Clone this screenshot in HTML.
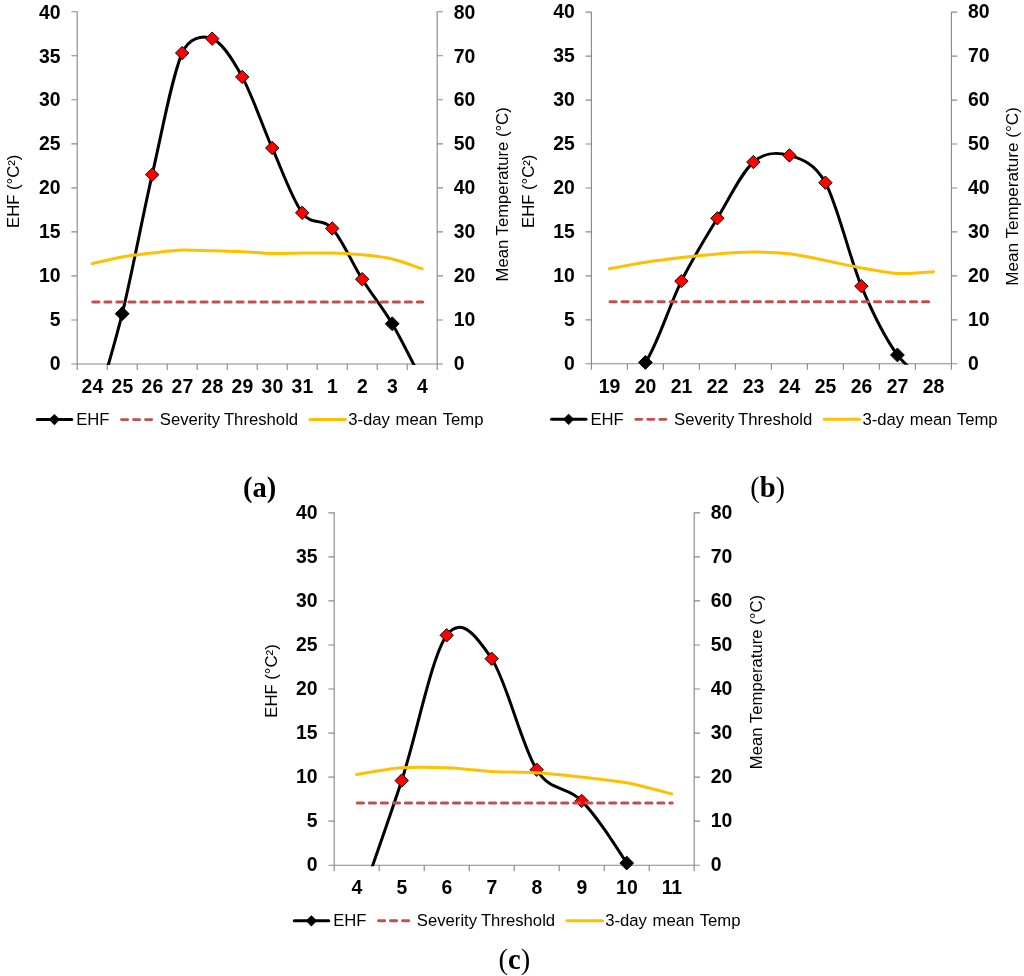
<!DOCTYPE html>
<html lang="en">
<head>
<meta charset="utf-8">
<title>EHF heatwave charts</title>
<style>
html,body{margin:0;padding:0;background:#fff;}
body{width:1024px;height:976px;overflow:hidden;}
svg{display:block;will-change:transform;}
text{white-space:pre;}
</style>
</head>
<body>
<svg width="1024" height="976" viewBox="0 0 1024 976">
<rect width="1024" height="976" fill="#ffffff"/>
<g id="chart-a">
<path d="M77.2 11.2 V364.5 M437.2 11.2 V364.5 M71.4 364 H443 M71.4 11.7 H77.2 M437.2 11.7 H443 M71.4 55.74 H77.2 M437.2 55.74 H443 M71.4 99.78 H77.2 M437.2 99.78 H443 M71.4 143.81 H77.2 M437.2 143.81 H443 M71.4 187.85 H77.2 M437.2 187.85 H443 M71.4 231.89 H77.2 M437.2 231.89 H443 M71.4 275.93 H77.2 M437.2 275.93 H443 M71.4 319.96 H77.2 M437.2 319.96 H443 M77.2 364 V370 M107.2 364 V370 M137.2 364 V370 M167.2 364 V370 M197.2 364 V370 M227.2 364 V370 M257.2 364 V370 M287.2 364 V370 M317.2 364 V370 M347.2 364 V370 M377.2 364 V370 M407.2 364 V370 M437.2 364 V370" fill="none" stroke="#8a8a8a" stroke-width="1.15"/>
<clipPath id="clipa"><rect x="77.2" y="-8.3" width="360" height="373.3"/></clipPath>
<path d="M92.2 419.49 C97.2 401.86 112.2 354.52 122.2 313.71 C132.2 272.9 142.2 218.09 152.2 174.64 C162.2 131.19 172.2 75.67 182.2 53.01 C188.91 37.79 202.2 34.67 212.2 38.65 C222.2 42.63 232.2 58.66 242.2 76.88 C252.2 95.09 262.2 125.3 272.2 147.95 C282.2 170.6 292.2 199.36 302.2 212.78 C312.2 226.19 322.2 217.38 332.2 228.45 C342.2 239.52 352.2 263.3 362.2 279.18 C372.2 295.07 382.2 306.75 392.2 323.75 C402.2 340.75 417.2 371.6 422.2 381.17" fill="none" stroke="#000000" stroke-width="3" stroke-linejoin="round" clip-path="url(#clipa)"/>
<path d="M122.2 306.81 L129.1 313.71 L122.2 320.61 L115.3 313.71 Z" fill="#000000" stroke="#000000" stroke-width="1"/>
<path d="M152.2 167.94 L158.9 174.64 L152.2 181.34 L145.5 174.64 Z" fill="#ff0000" stroke="#000000" stroke-width="0.95"/>
<path d="M182.2 46.31 L188.9 53.01 L182.2 59.71 L175.5 53.01 Z" fill="#ff0000" stroke="#000000" stroke-width="0.95"/>
<path d="M212.2 31.95 L218.9 38.65 L212.2 45.35 L205.5 38.65 Z" fill="#ff0000" stroke="#000000" stroke-width="0.95"/>
<path d="M242.2 70.18 L248.9 76.88 L242.2 83.58 L235.5 76.88 Z" fill="#ff0000" stroke="#000000" stroke-width="0.95"/>
<path d="M272.2 141.25 L278.9 147.95 L272.2 154.65 L265.5 147.95 Z" fill="#ff0000" stroke="#000000" stroke-width="0.95"/>
<path d="M302.2 206.08 L308.9 212.78 L302.2 219.48 L295.5 212.78 Z" fill="#ff0000" stroke="#000000" stroke-width="0.95"/>
<path d="M332.2 221.75 L338.9 228.45 L332.2 235.15 L325.5 228.45 Z" fill="#ff0000" stroke="#000000" stroke-width="0.95"/>
<path d="M362.2 272.48 L368.9 279.18 L362.2 285.88 L355.5 279.18 Z" fill="#ff0000" stroke="#000000" stroke-width="0.95"/>
<path d="M392.2 316.85 L399.1 323.75 L392.2 330.65 L385.3 323.75 Z" fill="#000000" stroke="#000000" stroke-width="1"/>
<path d="M92.8 301.91 H422.7" fill="none" stroke="#c0504d" stroke-width="3" stroke-dasharray="6.15 5.87" stroke-linecap="round"/>
<path d="M92.2 263.59 C97.2 262.49 112.2 258.75 122.2 256.99 C132.2 255.23 142.2 254.2 152.2 253.03 C162.2 251.85 172.2 250.31 182.2 249.94 C192.2 249.58 202.2 250.53 212.2 250.82 C222.2 251.12 232.2 251.26 242.2 251.7 C252.2 252.14 262.2 253.25 272.2 253.47 C282.2 253.69 292.2 253.1 302.2 253.03 C312.2 252.95 322.2 252.73 332.2 253.03 C342.2 253.32 352.2 253.8 362.2 254.79 C372.2 255.78 382.2 256.62 392.2 258.97 C402.2 261.32 417.2 267.23 422.2 268.88" fill="none" stroke="#ffc000" stroke-width="3" stroke-linecap="round" stroke-linejoin="round"/>
<g font-family='"Liberation Sans", Arial, Helvetica, sans-serif' font-size="20" font-weight="bold" fill="#000">
<g text-anchor="end">
<text transform="translate(60.5 18.65) scale(0.97 1.045)">40</text>
<text transform="translate(60.5 62.55) scale(0.97 1.045)">35</text>
<text transform="translate(60.5 106.45) scale(0.97 1.045)">30</text>
<text transform="translate(60.5 150.34) scale(0.97 1.045)">25</text>
<text transform="translate(60.5 194.24) scale(0.97 1.045)">20</text>
<text transform="translate(60.5 238.14) scale(0.97 1.045)">15</text>
<text transform="translate(60.5 282.03) scale(0.97 1.045)">10</text>
<text transform="translate(60.5 325.93) scale(0.97 1.045)">5</text>
<text transform="translate(60.5 369.83) scale(0.97 1.045)">0</text>
</g>
<g text-anchor="start">
<text transform="translate(453.8 18.65) scale(0.97 1.045)">80</text>
<text transform="translate(453.8 62.55) scale(0.97 1.045)">70</text>
<text transform="translate(453.8 106.45) scale(0.97 1.045)">60</text>
<text transform="translate(453.8 150.34) scale(0.97 1.045)">50</text>
<text transform="translate(453.8 194.24) scale(0.97 1.045)">40</text>
<text transform="translate(453.8 238.14) scale(0.97 1.045)">30</text>
<text transform="translate(453.8 282.03) scale(0.97 1.045)">20</text>
<text transform="translate(453.8 325.93) scale(0.97 1.045)">10</text>
<text transform="translate(453.8 369.83) scale(0.97 1.045)">0</text>
</g>
<g text-anchor="middle">
<text transform="translate(92.4 392.7) scale(0.97 1.02)">24</text>
<text transform="translate(122.4 392.7) scale(0.97 1.02)">25</text>
<text transform="translate(152.4 392.7) scale(0.97 1.02)">26</text>
<text transform="translate(182.4 392.7) scale(0.97 1.02)">27</text>
<text transform="translate(212.4 392.7) scale(0.97 1.02)">28</text>
<text transform="translate(242.4 392.7) scale(0.97 1.02)">29</text>
<text transform="translate(272.4 392.7) scale(0.97 1.02)">30</text>
<text transform="translate(302.4 392.7) scale(0.97 1.02)">31</text>
<text transform="translate(332.4 392.7) scale(0.97 1.02)">1</text>
<text transform="translate(362.4 392.7) scale(0.97 1.02)">2</text>
<text transform="translate(392.4 392.7) scale(0.97 1.02)">3</text>
<text transform="translate(422.4 392.7) scale(0.97 1.02)">4</text>
</g>
</g>
<g font-family='"Liberation Sans", Arial, Helvetica, sans-serif' font-size="16.7" fill="#000" text-anchor="middle">
<text transform="translate(18.9 191.3) rotate(-90)">EHF (°C²)</text>
<text transform="translate(508 194.4) rotate(-90)" font-size="16.7">Mean Temperature (°C)</text>
</g>
<g font-family='"Liberation Sans", Arial, Helvetica, sans-serif' font-size="16.7" fill="#000">
<path d="M37.3 419.6 H71.8" stroke="#000" stroke-width="3" stroke-linecap="round"/>
<path d="M54.4 414 L60 419.6 L54.4 425.2 L48.8 419.6 Z" fill="#000"/>
<text x="76.2" y="425.2">EHF</text>
<path d="M121.5 419.6 H151.9" stroke="#c0504d" stroke-width="2.9" stroke-dasharray="6.15 5.87" stroke-linecap="round"/>
<text x="159.8" y="425.2" word-spacing="-0.5">Severity Threshold</text>
<path d="M309.9 419.6 H345.4" stroke="#ffc000" stroke-width="3" stroke-linecap="round"/>
<text x="348.2" y="425.2" word-spacing="1">3-day mean Temp</text>
</g>
<text x="259.7" y="496.6" font-family='"Liberation Serif", "Times New Roman", Times, serif' font-size="28.5" font-weight="bold" text-anchor="middle" fill="#000">(a)</text>
</g>
<g id="chart-b">
<path d="M591.4 11.65 V364.25 M951.4 11.65 V364.25 M585.6 363.75 H957.2 M585.6 12.15 H591.4 M951.4 12.15 H957.2 M585.6 56.1 H591.4 M951.4 56.1 H957.2 M585.6 100.05 H591.4 M951.4 100.05 H957.2 M585.6 144 H591.4 M951.4 144 H957.2 M585.6 187.95 H591.4 M951.4 187.95 H957.2 M585.6 231.9 H591.4 M951.4 231.9 H957.2 M585.6 275.85 H591.4 M951.4 275.85 H957.2 M585.6 319.8 H591.4 M951.4 319.8 H957.2 M591.4 363.75 V369.75 M627.4 363.75 V369.75 M663.4 363.75 V369.75 M699.4 363.75 V369.75 M735.4 363.75 V369.75 M771.4 363.75 V369.75 M807.4 363.75 V369.75 M843.4 363.75 V369.75 M879.4 363.75 V369.75 M915.4 363.75 V369.75 M951.4 363.75 V369.75" fill="none" stroke="#8a8a8a" stroke-width="1.15"/>
<clipPath id="clipb"><rect x="591.4" y="-7.85" width="360" height="372.6"/></clipPath>
<path d="M609.4 385.73 C615.4 381.84 633.4 379.87 645.4 362.43 C657.4 345 669.4 305.15 681.4 281.12 C693.4 257.1 705.4 238.13 717.4 218.28 C729.4 198.42 741.4 172.49 753.4 162.02 C765.4 151.54 777.4 151.98 789.4 155.43 C801.4 158.87 814.51 162.9 825.4 182.68 C837.4 204.46 849.4 257.42 861.4 286.13 C873.4 314.85 885.4 338.51 897.4 354.96 C909.4 371.41 927.4 379.87 933.4 384.85" fill="none" stroke="#000000" stroke-width="3" stroke-linejoin="round" clip-path="url(#clipb)"/>
<path d="M645.4 355.53 L652.3 362.43 L645.4 369.33 L638.5 362.43 Z" fill="#000000" stroke="#000000" stroke-width="1"/>
<path d="M681.4 274.42 L688.1 281.12 L681.4 287.82 L674.7 281.12 Z" fill="#ff0000" stroke="#000000" stroke-width="0.95"/>
<path d="M717.4 211.58 L724.1 218.28 L717.4 224.98 L710.7 218.28 Z" fill="#ff0000" stroke="#000000" stroke-width="0.95"/>
<path d="M753.4 155.32 L760.1 162.02 L753.4 168.72 L746.7 162.02 Z" fill="#ff0000" stroke="#000000" stroke-width="0.95"/>
<path d="M789.4 148.73 L796.1 155.43 L789.4 162.13 L782.7 155.43 Z" fill="#ff0000" stroke="#000000" stroke-width="0.95"/>
<path d="M825.4 175.98 L832.1 182.68 L825.4 189.38 L818.7 182.68 Z" fill="#ff0000" stroke="#000000" stroke-width="0.95"/>
<path d="M861.4 279.43 L868.1 286.13 L861.4 292.83 L854.7 286.13 Z" fill="#ff0000" stroke="#000000" stroke-width="0.95"/>
<path d="M897.4 348.06 L904.3 354.96 L897.4 361.86 L890.5 354.96 Z" fill="#000000" stroke="#000000" stroke-width="1"/>
<path d="M610 301.78 H933.9" fill="none" stroke="#c0504d" stroke-width="3" stroke-dasharray="6.15 5.87" stroke-linecap="round"/>
<path d="M609.4 268.82 C615.4 267.72 633.4 264.13 645.4 262.23 C657.4 260.32 669.4 258.78 681.4 257.39 C693.4 256 705.4 254.75 717.4 253.88 C729.4 253 741.4 252.15 753.4 252.12 C765.4 252.08 777.4 252.26 789.4 253.66 C801.4 255.05 813.4 258.09 825.4 260.47 C837.4 262.85 849.4 265.78 861.4 267.94 C873.4 270.1 885.4 272.81 897.4 273.43 C909.4 274.06 927.4 271.97 933.4 271.67" fill="none" stroke="#ffc000" stroke-width="3" stroke-linecap="round" stroke-linejoin="round"/>
<g font-family='"Liberation Sans", Arial, Helvetica, sans-serif' font-size="20" font-weight="bold" fill="#000">
<g text-anchor="end">
<text transform="translate(574.7 18.25) scale(0.97 1.045)">40</text>
<text transform="translate(574.7 62.2) scale(0.97 1.045)">35</text>
<text transform="translate(574.7 106.15) scale(0.97 1.045)">30</text>
<text transform="translate(574.7 150.1) scale(0.97 1.045)">25</text>
<text transform="translate(574.7 194.05) scale(0.97 1.045)">20</text>
<text transform="translate(574.7 238) scale(0.97 1.045)">15</text>
<text transform="translate(574.7 281.95) scale(0.97 1.045)">10</text>
<text transform="translate(574.7 325.9) scale(0.97 1.045)">5</text>
<text transform="translate(574.7 369.85) scale(0.97 1.045)">0</text>
</g>
<g text-anchor="start">
<text transform="translate(968 18.25) scale(0.97 1.045)">80</text>
<text transform="translate(968 62.2) scale(0.97 1.045)">70</text>
<text transform="translate(968 106.15) scale(0.97 1.045)">60</text>
<text transform="translate(968 150.1) scale(0.97 1.045)">50</text>
<text transform="translate(968 194.05) scale(0.97 1.045)">40</text>
<text transform="translate(968 238) scale(0.97 1.045)">30</text>
<text transform="translate(968 281.95) scale(0.97 1.045)">20</text>
<text transform="translate(968 325.9) scale(0.97 1.045)">10</text>
<text transform="translate(968 369.85) scale(0.97 1.045)">0</text>
</g>
<g text-anchor="middle">
<text transform="translate(609.6 393.35) scale(0.97 1.02)">19</text>
<text transform="translate(645.6 393.35) scale(0.97 1.02)">20</text>
<text transform="translate(681.6 393.35) scale(0.97 1.02)">21</text>
<text transform="translate(717.6 393.35) scale(0.97 1.02)">22</text>
<text transform="translate(753.6 393.35) scale(0.97 1.02)">23</text>
<text transform="translate(789.6 393.35) scale(0.97 1.02)">24</text>
<text transform="translate(825.6 393.35) scale(0.97 1.02)">25</text>
<text transform="translate(861.6 393.35) scale(0.97 1.02)">26</text>
<text transform="translate(897.6 393.35) scale(0.97 1.02)">27</text>
<text transform="translate(933.6 393.35) scale(0.97 1.02)">28</text>
</g>
</g>
<g font-family='"Liberation Sans", Arial, Helvetica, sans-serif' font-size="16.7" fill="#000" text-anchor="middle">
<text transform="translate(533.9 191.3) rotate(-90)">EHF (°C²)</text>
<text transform="translate(1018.1 196.4) rotate(-90)" font-size="17.1">Mean Temperature (°C)</text>
</g>
<g font-family='"Liberation Sans", Arial, Helvetica, sans-serif' font-size="16.7" fill="#000">
<path d="M551.5 419.35 H586" stroke="#000" stroke-width="3" stroke-linecap="round"/>
<path d="M568.6 413.75 L574.2 419.35 L568.6 424.95 L563 419.35 Z" fill="#000"/>
<text x="590.4" y="424.95">EHF</text>
<path d="M635.7 419.35 H666.1" stroke="#c0504d" stroke-width="2.9" stroke-dasharray="6.15 5.87" stroke-linecap="round"/>
<text x="674" y="424.95" word-spacing="-0.5">Severity Threshold</text>
<path d="M824.1 419.35 H859.6" stroke="#ffc000" stroke-width="3" stroke-linecap="round"/>
<text x="862.4" y="424.95" word-spacing="1">3-day mean Temp</text>
</g>
<text x="767.6" y="496.6" font-family='"Liberation Serif", "Times New Roman", Times, serif' font-size="28.5" text-anchor="middle" fill="#000">(<tspan font-weight="bold">b</tspan>)</text>
</g>
<g id="chart-c">
<path d="M334.2 512.35 V865.7 M694.2 512.35 V865.7 M328.4 865.2 H700 M328.4 512.85 H334.2 M694.2 512.85 H700 M328.4 556.89 H334.2 M694.2 556.89 H700 M328.4 600.94 H334.2 M694.2 600.94 H700 M328.4 644.98 H334.2 M694.2 644.98 H700 M328.4 689.03 H334.2 M694.2 689.03 H700 M328.4 733.07 H334.2 M694.2 733.07 H700 M328.4 777.11 H334.2 M694.2 777.11 H700 M328.4 821.16 H334.2 M694.2 821.16 H700 M334.2 865.2 V871.2 M379.2 865.2 V871.2 M424.2 865.2 V871.2 M469.2 865.2 V871.2 M514.2 865.2 V871.2 M559.2 865.2 V871.2 M604.2 865.2 V871.2 M649.2 865.2 V871.2 M694.2 865.2 V871.2" fill="none" stroke="#8a8a8a" stroke-width="1.15"/>
<clipPath id="clipc"><rect x="334.2" y="492.85" width="360" height="373.35"/></clipPath>
<path d="M356.7 911.01 C364.2 889.26 386.7 826.5 401.7 780.55 C416.7 734.6 431.7 655.6 446.7 635.29 C461.7 614.99 477.59 637.64 491.7 658.72 C506.7 681.13 521.7 746.02 536.7 769.71 C551.34 792.84 566.7 785.33 581.7 800.9 C596.7 816.46 611.7 839.89 626.7 863.09 C641.7 886.28 664.2 927.24 671.7 940.07" fill="none" stroke="#000000" stroke-width="3" stroke-linejoin="round" clip-path="url(#clipc)"/>
<path d="M401.7 773.85 L408.4 780.55 L401.7 787.25 L395 780.55 Z" fill="#ff0000" stroke="#000000" stroke-width="0.95"/>
<path d="M446.7 628.59 L453.4 635.29 L446.7 641.99 L440 635.29 Z" fill="#ff0000" stroke="#000000" stroke-width="0.95"/>
<path d="M491.7 652.02 L498.4 658.72 L491.7 665.42 L485 658.72 Z" fill="#ff0000" stroke="#000000" stroke-width="0.95"/>
<path d="M536.7 763.01 L543.4 769.71 L536.7 776.41 L530 769.71 Z" fill="#ff0000" stroke="#000000" stroke-width="0.95"/>
<path d="M581.7 794.2 L588.4 800.9 L581.7 807.6 L575 800.9 Z" fill="#ff0000" stroke="#000000" stroke-width="0.95"/>
<path d="M626.7 856.19 L633.6 863.09 L626.7 869.99 L619.8 863.09 Z" fill="#000000" stroke="#000000" stroke-width="1"/>
<path d="M357.3 803.1 H672.2" fill="none" stroke="#c0504d" stroke-width="3" stroke-dasharray="6.15 5.87" stroke-linecap="round"/>
<path d="M356.7 774.47 C364.2 773.37 386.7 768.96 401.7 767.86 C416.7 766.76 431.7 767.28 446.7 767.86 C461.7 768.45 476.7 770.58 491.7 771.39 C506.7 772.19 521.7 771.75 536.7 772.71 C551.7 773.66 566.7 775.42 581.7 777.11 C596.7 778.8 611.7 780.05 626.7 782.84 C641.7 785.63 664.2 792.01 671.7 793.85" fill="none" stroke="#ffc000" stroke-width="3" stroke-linecap="round" stroke-linejoin="round"/>
<g font-family='"Liberation Sans", Arial, Helvetica, sans-serif' font-size="20" font-weight="bold" fill="#000">
<g text-anchor="end">
<text transform="translate(317.5 519.35) scale(0.97 1.045)">40</text>
<text transform="translate(317.5 563.34) scale(0.97 1.045)">35</text>
<text transform="translate(317.5 607.34) scale(0.97 1.045)">30</text>
<text transform="translate(317.5 651.33) scale(0.97 1.045)">25</text>
<text transform="translate(317.5 695.33) scale(0.97 1.045)">20</text>
<text transform="translate(317.5 739.32) scale(0.97 1.045)">15</text>
<text transform="translate(317.5 783.31) scale(0.97 1.045)">10</text>
<text transform="translate(317.5 827.31) scale(0.97 1.045)">5</text>
<text transform="translate(317.5 871.3) scale(0.97 1.045)">0</text>
</g>
<g text-anchor="start">
<text transform="translate(710.8 519.35) scale(0.97 1.045)">80</text>
<text transform="translate(710.8 563.34) scale(0.97 1.045)">70</text>
<text transform="translate(710.8 607.34) scale(0.97 1.045)">60</text>
<text transform="translate(710.8 651.33) scale(0.97 1.045)">50</text>
<text transform="translate(710.8 695.33) scale(0.97 1.045)">40</text>
<text transform="translate(710.8 739.32) scale(0.97 1.045)">30</text>
<text transform="translate(710.8 783.31) scale(0.97 1.045)">20</text>
<text transform="translate(710.8 827.31) scale(0.97 1.045)">10</text>
<text transform="translate(710.8 871.3) scale(0.97 1.045)">0</text>
</g>
<g text-anchor="middle">
<text transform="translate(356.9 894.35) scale(0.97 1.02)">4</text>
<text transform="translate(401.9 894.35) scale(0.97 1.02)">5</text>
<text transform="translate(446.9 894.35) scale(0.97 1.02)">6</text>
<text transform="translate(491.9 894.35) scale(0.97 1.02)">7</text>
<text transform="translate(536.9 894.35) scale(0.97 1.02)">8</text>
<text transform="translate(581.9 894.35) scale(0.97 1.02)">9</text>
<text transform="translate(626.9 894.35) scale(0.97 1.02)">10</text>
<text transform="translate(671.9 894.35) scale(0.97 1.02)">11</text>
</g>
</g>
<g font-family='"Liberation Sans", Arial, Helvetica, sans-serif' font-size="16.7" fill="#000" text-anchor="middle">
<text transform="translate(276.6 681) rotate(-90)">EHF (°C²)</text>
<text transform="translate(762.2 682.1) rotate(-90)" font-size="16.7">Mean Temperature (°C)</text>
</g>
<g font-family='"Liberation Sans", Arial, Helvetica, sans-serif' font-size="16.7" fill="#000">
<path d="M294.3 920.8 H328.8" stroke="#000" stroke-width="3" stroke-linecap="round"/>
<path d="M311.4 915.2 L317 920.8 L311.4 926.4 L305.8 920.8 Z" fill="#000"/>
<text x="333.2" y="926.4">EHF</text>
<path d="M378.5 920.8 H408.9" stroke="#c0504d" stroke-width="2.9" stroke-dasharray="6.15 5.87" stroke-linecap="round"/>
<text x="416.8" y="926.4" word-spacing="-0.5">Severity Threshold</text>
<path d="M566.9 920.8 H602.4" stroke="#ffc000" stroke-width="3" stroke-linecap="round"/>
<text x="605.2" y="926.4" word-spacing="1">3-day mean Temp</text>
</g>
<text x="514.3" y="969.2" font-family='"Liberation Serif", "Times New Roman", Times, serif' font-size="28.5" text-anchor="middle" fill="#000">(<tspan font-weight="bold">c</tspan>)</text>
</g>
</svg>
</body>
</html>
